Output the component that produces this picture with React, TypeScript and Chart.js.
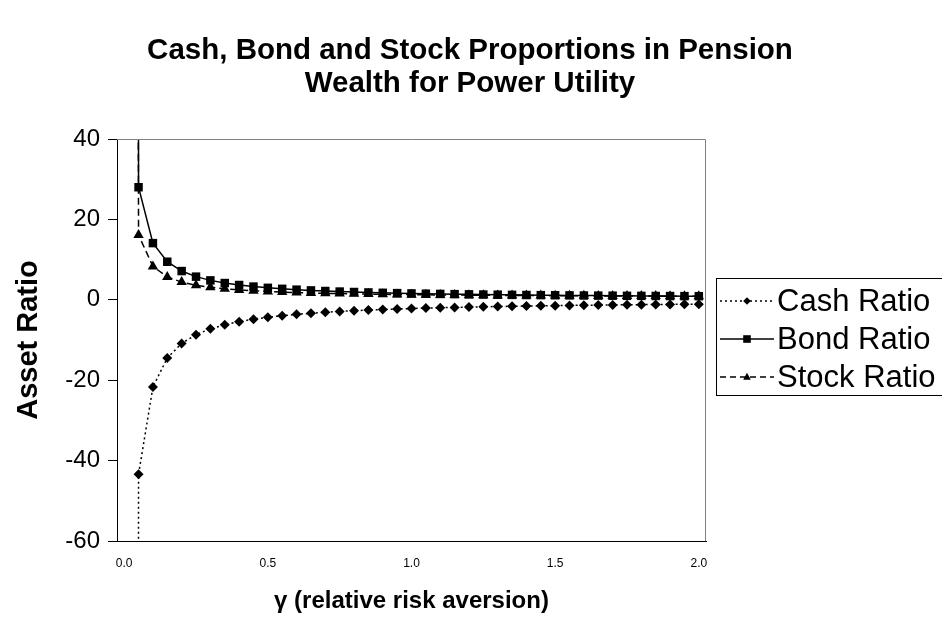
import React, { useEffect, useRef } from "react";
import { Chart, registerables } from "chart.js";

Chart.register(...registerables);

const FONT = "'Liberation Sans', Arial, Helvetica, sans-serif";

// gamma categories (first one stands for the gamma -> 0 limit)
const gammaCategories = [
  "0.00", "0.05", "0.10", "0.15", "0.20", "0.25", "0.30", "0.35", "0.40", "0.45",
  "0.50", "0.55", "0.60", "0.65", "0.70", "0.75", "0.80", "0.85", "0.90", "0.95",
  "1.00", "1.05", "1.10", "1.15", "1.20", "1.25", "1.30", "1.35", "1.40", "1.45",
  "1.50", "1.55", "1.60", "1.65", "1.70", "1.75", "1.80", "1.85", "1.90", "1.95",
  "2.00",
];
const xTickLabels = ["0.0", "0.5", "1.0", "1.5", "2.0"];

const cashRatio = [
  -4700, -43.4, -21.7, -14.47, -10.85, -8.68, -7.23, -6.2, -5.43, -4.82,
  -4.34, -3.95, -3.62, -3.34, -3.1, -2.89, -2.71, -2.55, -2.41, -2.28,
  -2.17, -2.07, -1.97, -1.89, -1.81, -1.74, -1.67, -1.61, -1.55, -1.5,
  -1.45, -1.4, -1.36, -1.32, -1.28, -1.24, -1.21, -1.17, -1.14, -1.11,
  -1.09,
];
const bondRatio = [
  3000, 28.0, 14.1, 9.47, 7.15, 5.76, 4.83, 4.17, 3.68, 3.29,
  2.98, 2.73, 2.52, 2.34, 2.19, 2.05, 1.94, 1.83, 1.74, 1.66,
  1.59, 1.52, 1.46, 1.41, 1.36, 1.31, 1.27, 1.23, 1.19, 1.16,
  1.13, 1.1, 1.07, 1.04, 1.02, 0.99, 0.97, 0.95, 0.93, 0.91,
  0.9,
];
const stockRatio = [
  1700, 16.1, 8.3, 5.7, 4.4, 3.62, 3.1, 2.73, 2.45, 2.23,
  2.06, 1.92, 1.8, 1.7, 1.61, 1.54, 1.48, 1.42, 1.37, 1.32,
  1.28, 1.24, 1.21, 1.18, 1.15, 1.12, 1.1, 1.08, 1.06, 1.04,
  1.02, 1.0, 0.99, 0.97, 0.96, 0.95, 0.93, 0.92, 0.91, 0.9,
  0.89,
];

const seriesNames = ["Cash Ratio", "Bond Ratio", "Stock Ratio"];
const titleLines = ["Cash, Bond and Stock Proportions in Pension", "Wealth for Power Utility"];
const yTitle = "Asset Ratio";
const xTitle = "\u03b3 (relative risk aversion)";

function drawMarker(ctx: CanvasRenderingContext2D, kind: string, x: number, y: number, r: number) {
  ctx.beginPath();
  if (kind === "diamond") {
    ctx.moveTo(x, y - r);
    ctx.lineTo(x + r, y);
    ctx.lineTo(x, y + r);
    ctx.lineTo(x - r, y);
    ctx.closePath();
  } else if (kind === "square") {
    ctx.rect(x - r, y - r, 2 * r, 2 * r);
  } else {
    ctx.moveTo(x, y - r * 1.1);
    ctx.lineTo(x + r, y + r * 0.7);
    ctx.lineTo(x - r, y + r * 0.7);
    ctx.closePath();
  }
  ctx.fill();
}

const decorPlugin = {
  id: "decor",
  afterDraw(chart: any) {
    const ctx: CanvasRenderingContext2D = chart.ctx;
    const { left, right, top, bottom } = chart.chartArea;
    ctx.save();
    // plot area frame (top/right)
    ctx.strokeStyle = "#808080";
    ctx.lineWidth = 1;
    ctx.setLineDash([]);
    ctx.beginPath();
    ctx.moveTo(left, top + 0.5);
    ctx.lineTo(right - 0.5, top + 0.5);
    ctx.lineTo(right - 0.5, bottom);
    ctx.stroke();

    ctx.fillStyle = "#000";
    // title
    ctx.font = `bold 29.5px ${FONT}`;
    ctx.textAlign = "center";
    ctx.textBaseline = "middle";
    ctx.fillText(titleLines[0], 470, 51);
    ctx.fillText(titleLines[1], 470, 84);

    // x title
    ctx.font = `bold 24px ${FONT}`;
    ctx.fillText(xTitle, (left + right) / 2, 601);

    // y title
    ctx.font = `bold 29px ${FONT}`;
    ctx.save();
    ctx.translate(29, (top + bottom) / 2);
    ctx.rotate(-Math.PI / 2);
    ctx.fillText(yTitle, 0, 0);
    ctx.restore();

    // legend
    ctx.strokeStyle = "#000";
    ctx.lineWidth = 1;
    ctx.strokeRect(716.5, 278.5, 240, 117);
    const kinds = ["diamond", "square", "triangle"];
    const dashes = [[2, 3], [], [6, 4]];
    ctx.font = `31px ${FONT}`;
    ctx.textAlign = "left";
    seriesNames.forEach((name, i) => {
      const y = 301 + i * 38;
      ctx.setLineDash(dashes[i]);
      ctx.lineWidth = 1.3;
      ctx.beginPath();
      ctx.moveTo(720, y);
      ctx.lineTo(774, y);
      ctx.stroke();
      ctx.setLineDash([]);
      drawMarker(ctx, kinds[i], 747, y, 3.8);
      ctx.fillText(name, 777, y + 1);
    });
    ctx.restore();
  },
};

export default function App() {
  const canvasRef = useRef<HTMLCanvasElement | null>(null);

  useEffect(() => {
    const canvas = canvasRef.current;
    if (!canvas) return;
    const chart = new Chart(canvas, {
      type: "line",
      data: {
        labels: gammaCategories,
        datasets: [
          {
            label: seriesNames[0],
            data: cashRatio,
            borderColor: "#000",
            backgroundColor: "#000",
            borderWidth: 1.5,
            borderDash: [2, 3],
            pointStyle: "rectRot",
            pointRadius: 5,
            pointBorderWidth: 0,
            pointBackgroundColor: "#000",
            tension: 0,
          },
          {
            label: seriesNames[1],
            data: bondRatio,
            borderColor: "#000",
            backgroundColor: "#000",
            borderWidth: 1.5,
            pointStyle: "rect",
            pointRadius: 6,
            pointBorderWidth: 0,
            pointBackgroundColor: "#000",
            tension: 0,
          },
          {
            label: seriesNames[2],
            data: stockRatio,
            borderColor: "#000",
            backgroundColor: "#000",
            borderWidth: 1.5,
            borderDash: [7, 4],
            pointStyle: "triangle",
            pointRadius: 6,
            pointBorderWidth: 0,
            pointBackgroundColor: "#000",
            tension: 0,
          },
        ],
      },
      options: {
        responsive: false,
        animation: false,
        devicePixelRatio: 1,
        layout: { padding: { left: 0, right: 236, top: 139, bottom: 0 } },
        plugins: {
          legend: { display: false },
          title: { display: false },
          tooltip: { enabled: false },
        },
        scales: {
          x: {
            type: "category",
            offset: true,
            grid: { display: false, drawTicks: false },
            border: { display: true, color: "#000", width: 1 },
            ticks: {
              autoSkip: false,
              maxRotation: 0,
              minRotation: 0,
              padding: 15,
              color: "#000",
              font: { family: FONT, size: 12 },
              callback: (_v: any, i: number) => (i % 10 === 0 ? xTickLabels[i / 10] : ""),
            },
            afterFit: (s: any) => {
              s.height = 80;
            },
          },
          y: {
            min: -60,
            max: 40,
            grid: {
              display: true,
              drawOnChartArea: false,
              drawTicks: true,
              tickLength: 9,
              color: "#000",
            },
            border: { display: true, color: "#000", width: 1 },
            ticks: {
              stepSize: 20,
              padding: 8,
              color: "#000",
              font: { family: FONT, size: 24 },
            },
            afterFit: (s: any) => {
              s.width = 117;
            },
          },
        },
      },
      plugins: [decorPlugin],
    });
    return () => chart.destroy();
  }, []);

  return (
    <div style={{ position: "absolute", left: 0, top: 0, width: 942, height: 621, background: "#fff" }}>
      <canvas ref={canvasRef} width={942} height={621} />
    </div>
  );
}
